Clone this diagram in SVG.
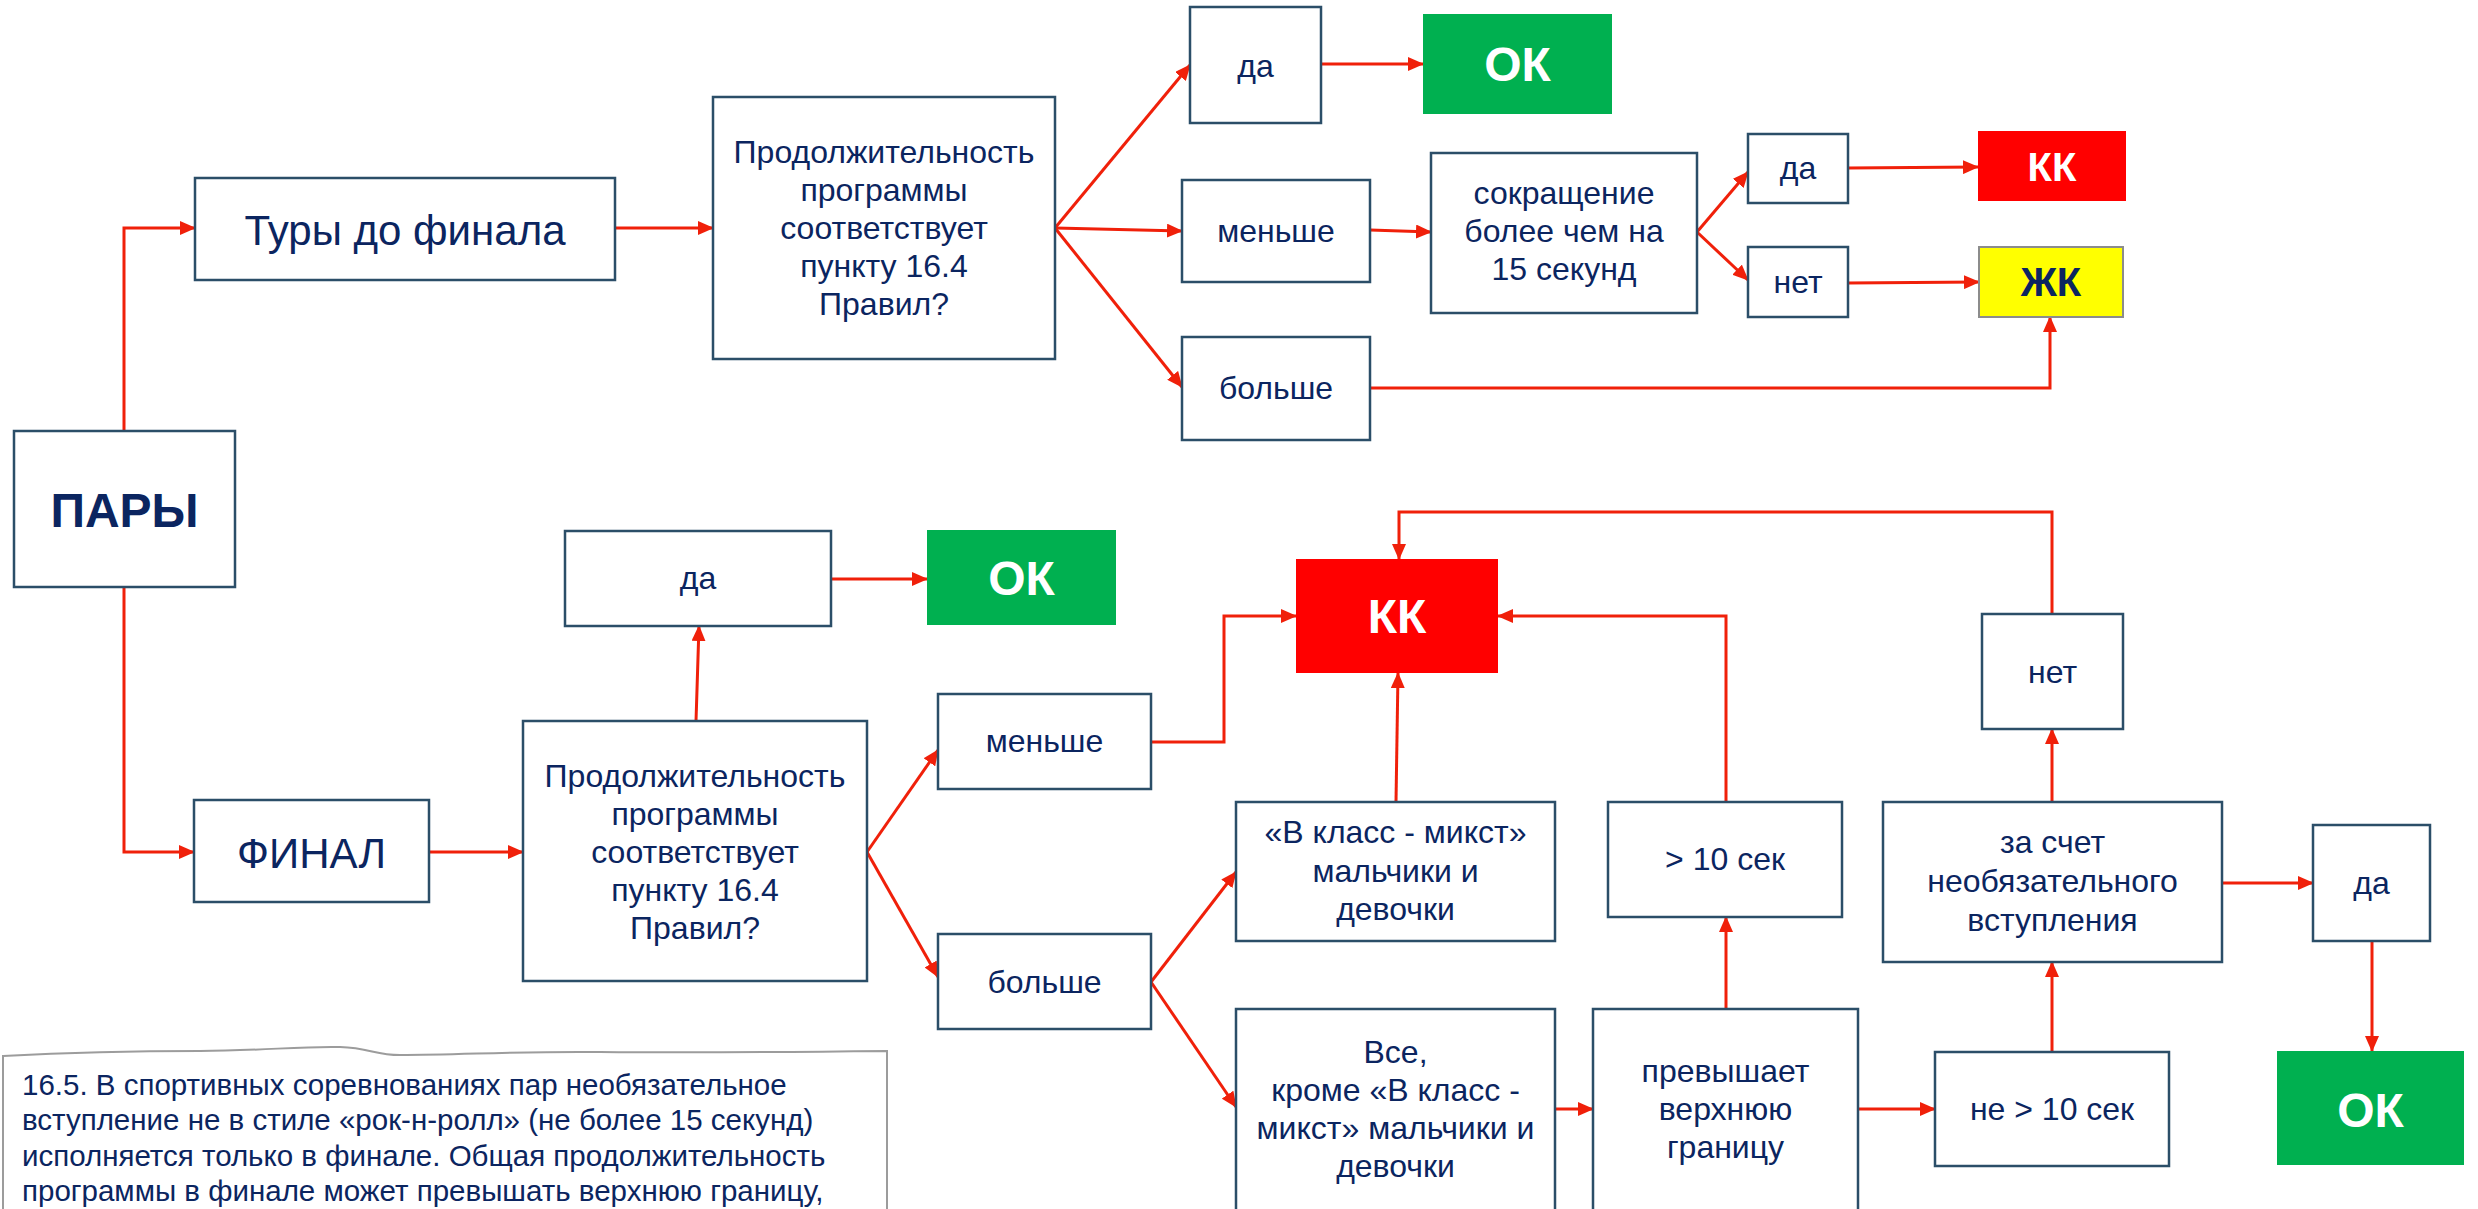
<svg xmlns="http://www.w3.org/2000/svg" width="2478" height="1209" viewBox="0 0 2478 1209">
<style>
.box{fill:#fff;stroke:#2B4E68;stroke-width:2.5}
.t{font-family:"Liberation Sans",Arial,sans-serif;font-size:32px;fill:#0B2560;text-anchor:middle}
.b{font-weight:bold}
.w{fill:#fff}
.f48{font-size:48px}
.f42{font-size:42px}
.f40{font-size:40px}
.conn path{fill:none;stroke:#F0200A;stroke-width:3;marker-end:url(#ah)}
.note{fill:#fff;stroke:#9C9C9C;stroke-width:2}
.nt{font-family:"Liberation Sans",Arial,sans-serif;font-size:29.5px;fill:#0B2560}
</style>
<defs>
<marker id="ah" markerWidth="16" markerHeight="14" refX="15" refY="7" orient="auto" markerUnits="userSpaceOnUse">
<path d="M0,0 L16,7 L0,14 z" fill="#F0200A"/>
</marker>
</defs>
<rect width="2478" height="1209" fill="#fff"/>

<g id="connectors" class="conn">
<path d="M124,431 V228 H195"/>
<path d="M124,587 V852 H194"/>
<path d="M615,228 H713"/>
<path d="M1055,228 L1190,65"/>
<path d="M1055,228 L1182,231"/>
<path d="M1055,228 L1182,387"/>
<path d="M1321,64 H1423"/>
<path d="M1370,230 L1431,232"/>
<path d="M1697,232 L1748,172"/>
<path d="M1697,232 L1748,280"/>
<path d="M1848,168 L1978,167"/>
<path d="M1848,283 L1979,282"/>
<path d="M1370,388 H2050 V317"/>
<path d="M429,852 H523"/>
<path d="M696,721 L699,626"/>
<path d="M831,579 H927"/>
<path d="M867,852 L938,750"/>
<path d="M867,852 L938,977"/>
<path d="M1151,742 H1224 V616 H1296"/>
<path d="M1151,982 L1236,872"/>
<path d="M1151,982 L1236,1107"/>
<path d="M1396,802 L1398,673"/>
<path d="M1726,802 V616 H1498"/>
<path d="M2052,614 V512 H1399 V559"/>
<path d="M2052,802 V729"/>
<path d="M2222,883 H2313"/>
<path d="M2372,941 V1051"/>
<path d="M1555,1109 H1593"/>
<path d="M1858,1109 H1935"/>
<path d="M1726,1009 V917"/>
<path d="M2052,1052 V962"/>
</g>

<g id="pary"><rect class="box" x="14" y="431" width="221" height="156"/><text class="t b f48" x="124.5" y="527">ПАРЫ</text></g>
<g id="tury"><rect class="box" x="195" y="178" width="420" height="102"/><text class="t f42" x="405" y="245">Туры до финала</text></g>
<g id="prod1"><rect class="box" x="713" y="97" width="342" height="262"/>
<text class="t" x="884" y="163">Продолжительность</text><text class="t" x="884" y="201">программы</text><text class="t" x="884" y="239">соответствует</text><text class="t" x="884" y="277">пункту 16.4</text><text class="t" x="884" y="315">Правил?</text></g>
<g id="da1"><rect class="box" x="1190" y="7" width="131" height="116"/><text class="t" x="1255.5" y="77">да</text></g>
<g id="ok1"><rect x="1423" y="14" width="189" height="100" fill="#00B050"/><text class="t b w f48" x="1517.5" y="81">ОК</text></g>
<g id="menshe1"><rect class="box" x="1182" y="180" width="188" height="102"/><text class="t" x="1276" y="242">меньше</text></g>
<g id="bolshe1"><rect class="box" x="1182" y="337" width="188" height="103"/><text class="t" x="1276" y="399">больше</text></g>
<g id="sokr"><rect class="box" x="1431" y="153" width="266" height="160"/>
<text class="t" x="1564" y="204">сокращение</text><text class="t" x="1564" y="242">более чем на</text><text class="t" x="1564" y="280">15 секунд</text></g>
<g id="da_small"><rect class="box" x="1748" y="134" width="100" height="69"/><text class="t" x="1798" y="179">да</text></g>
<g id="kk1"><rect x="1978" y="131" width="148" height="70" fill="#FF0000"/><text class="t b w f40" x="2052" y="181">КК</text></g>
<g id="net1"><rect class="box" x="1748" y="247" width="100" height="70"/><text class="t" x="1798" y="293">нет</text></g>
<g id="zhk"><rect x="1979" y="247" width="144" height="70" fill="#FFFF00" stroke="#8C8C8C" stroke-width="2"/><text class="t b f40" x="2051" y="296">ЖК</text></g>

<g id="final"><rect class="box" x="194" y="800" width="235" height="102"/><text class="t f42" x="311.5" y="868">ФИНАЛ</text></g>
<g id="prod2"><rect class="box" x="523" y="721" width="344" height="260"/>
<text class="t" x="695" y="787">Продолжительность</text><text class="t" x="695" y="825">программы</text><text class="t" x="695" y="863">соответствует</text><text class="t" x="695" y="901">пункту 16.4</text><text class="t" x="695" y="939">Правил?</text></g>
<g id="da2"><rect class="box" x="565" y="531" width="266" height="95"/><text class="t" x="698" y="589">да</text></g>
<g id="ok2"><rect x="927" y="530" width="189" height="95" fill="#00B050"/><text class="t b w f48" x="1021.5" y="595">ОК</text></g>
<g id="menshe2"><rect class="box" x="938" y="694" width="213" height="95"/><text class="t" x="1044.5" y="752">меньше</text></g>
<g id="bolshe2"><rect class="box" x="938" y="934" width="213" height="95"/><text class="t" x="1044.5" y="993">больше</text></g>
<g id="kk2"><rect x="1296" y="559" width="202" height="114" fill="#FF0000"/><text class="t b w f48" x="1397" y="633">КК</text></g>
<g id="vklass"><rect class="box" x="1236" y="802" width="319" height="139"/>
<text class="t" x="1395.5" y="843">«В класс - микст»</text><text class="t" x="1395.5" y="882">мальчики и</text><text class="t" x="1395.5" y="920">девочки</text></g>
<g id="gt10"><rect class="box" x="1608" y="802" width="234" height="115"/><text class="t" x="1725" y="870">&gt; 10 сек</text></g>
<g id="zaschet"><rect class="box" x="1883" y="802" width="339" height="160"/>
<text class="t" x="2052.5" y="853">за счет</text><text class="t" x="2052.5" y="892">необязательного</text><text class="t" x="2052.5" y="931">вступления</text></g>
<g id="net2"><rect class="box" x="1982" y="614" width="141" height="115"/><text class="t" x="2052.5" y="683">нет</text></g>
<g id="da3"><rect class="box" x="2313" y="825" width="117" height="116"/><text class="t" x="2371.5" y="894">да</text></g>
<g id="vse"><rect class="box" x="1236" y="1009" width="319" height="210"/>
<text class="t" x="1395.5" y="1063">Все,</text><text class="t" x="1395.5" y="1101">кроме «В класс -</text><text class="t" x="1395.5" y="1139">микст» мальчики и</text><text class="t" x="1395.5" y="1177">девочки</text></g>
<g id="prevysh"><rect class="box" x="1593" y="1009" width="265" height="210"/>
<text class="t" x="1725.5" y="1082">превышает</text><text class="t" x="1725.5" y="1120">верхнюю</text><text class="t" x="1725.5" y="1158">границу</text></g>
<g id="ne10"><rect class="box" x="1935" y="1052" width="234" height="114"/><text class="t" x="2052" y="1120">не &gt; 10 сек</text></g>
<g id="ok3"><rect x="2277" y="1051" width="187" height="114" fill="#00B050"/><text class="t b w f48" x="2370.5" y="1127">ОК</text></g>

<g id="note">
<path class="note" d="M3,1056 C60,1053 120,1051 200,1051 C260,1051 300,1046 340,1047 C370,1048 375,1055 400,1055 C460,1055 520,1051 600,1052 C700,1053 800,1052 887,1051 V1215 H3 Z"/>
<text class="nt" x="22" y="1095">16.5. В спортивных соревнованиях пар необязательное</text>
<text class="nt" x="22" y="1130">вступление не в стиле «рок-н-ролл» (не более 15 секунд)</text>
<text class="nt" x="22" y="1166">исполняется только в финале. Общая продолжительность</text>
<text class="nt" x="22" y="1201">программы в финале может превышать верхнюю границу,</text>
</g>
</svg>
